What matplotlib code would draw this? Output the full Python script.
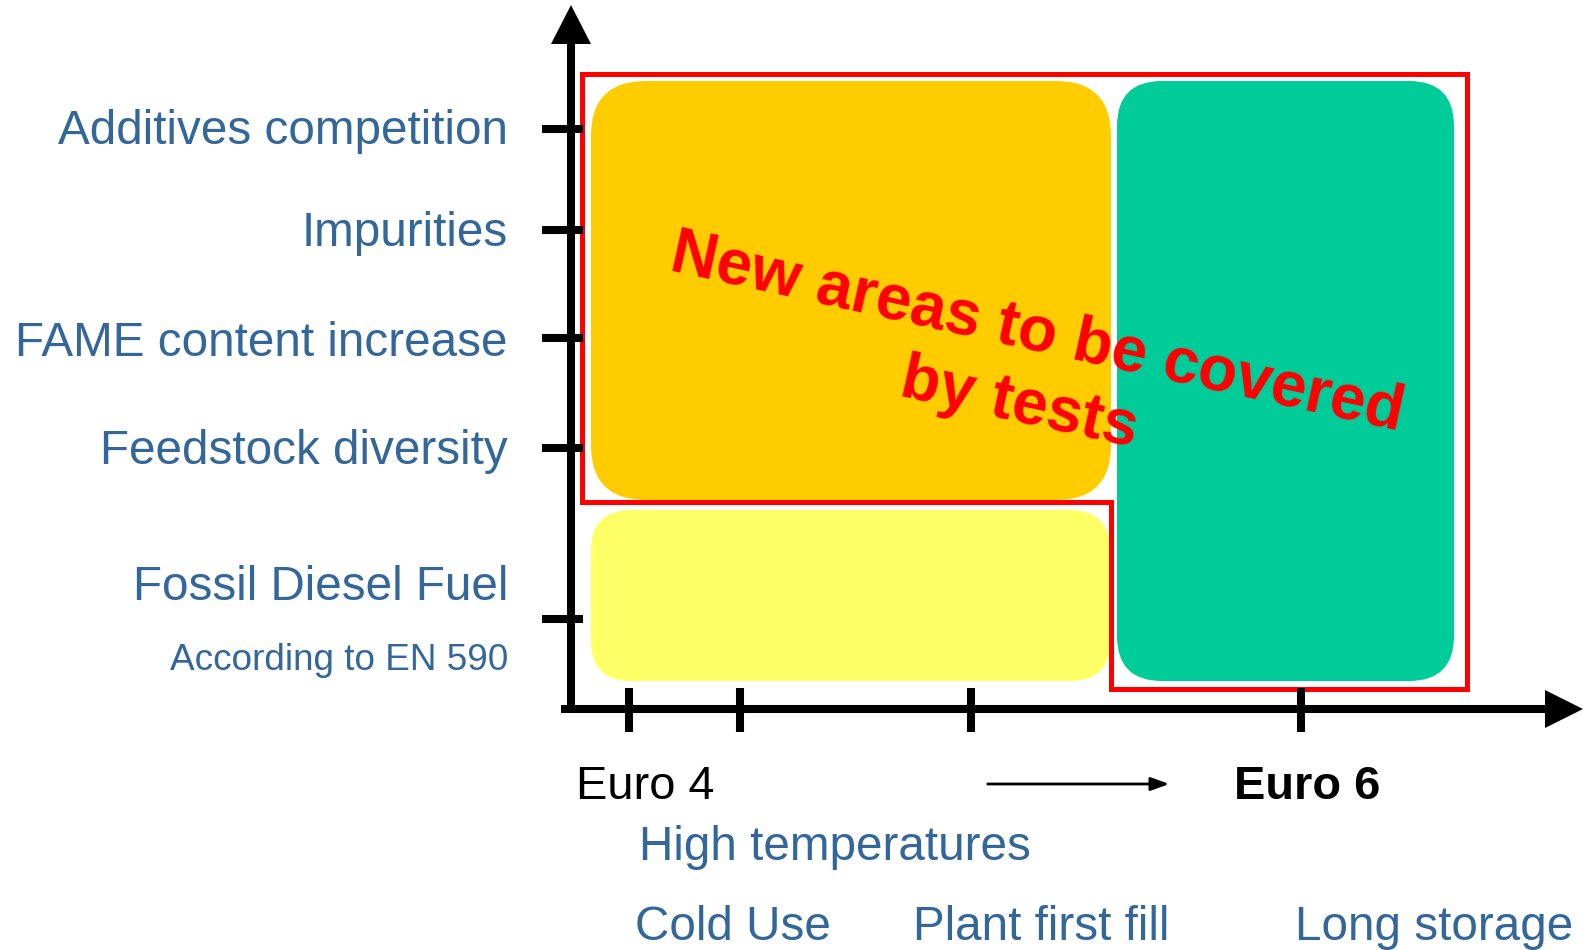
import matplotlib
matplotlib.use("Agg")
import matplotlib.pyplot as plt
from matplotlib.patches import FancyBboxPatch, Polygon
from matplotlib.lines import Line2D

plt.rcParams['font.family'] = ['Liberation Sans', 'DejaVu Sans']

# ---- content ----
y_labels = ["Additives competition", "Impurities", "FAME content increase",
            "Feedstock diversity", "Fossil Diesel Fuel"]
y_sublabel = "According to EN 590"
x_row1 = ["Euro 4", "Euro 6"]
x_row2 = ["High temperatures"]
x_row3 = ["Cold Use", "Plant first fill", "Long storage"]
overlay_lines = ["New areas to be covered", "by tests"]

# ---- layout (pixel coordinates, origin top-left) ----
W, H = 1583, 950
y_tick_pos = [129, 230, 338, 448, 619]
x_tick_pos = [629, 740, 971, 1301]
y_label_pos = [131, 233, 343, 451, 587]

BLUE = "#336699"
ORANGE = "#FFCC00"
GREEN = "#00CC99"
YELLOW = "#FFFF66"
RED = "#FF0000"

fig = plt.figure(figsize=(W / 100, H / 100), dpi=100)
ax = fig.add_axes([0, 0, 1, 1])
ax.set_xlim(0, W)
ax.set_ylim(H, 0)
ax.axis("off")

def rbox(x0, y0, x1, y1, r, color):
    p = FancyBboxPatch((x0, y0), x1 - x0, y1 - y0,
                       boxstyle=f"round,pad=0,rounding_size={r}",
                       facecolor=color, edgecolor="none", zorder=1)
    ax.add_patch(p)

rbox(591, 81, 1111, 500, 55, ORANGE)
rbox(1117, 81, 1454, 681, 45, GREEN)
rbox(591, 510, 1110, 681, 40, YELLOW)

# red outline
red_pts = [(582, 74), (1467, 74), (1467, 689), (1111, 689), (1111, 502), (582, 502)]
ax.add_patch(Polygon(red_pts, closed=True, fill=False, edgecolor=RED,
                     linewidth=3.6, joinstyle="miter", zorder=2))

# axes
lw = 5.8
ax.add_line(Line2D([571, 571], [713, 40], color="black", lw=lw, zorder=3,
                   solid_capstyle="butt"))
ax.add_patch(Polygon([(551, 44), (591, 44), (571, 5)], closed=True,
                     facecolor="black", edgecolor="none", zorder=3))
ax.add_line(Line2D([561, 1550], [709, 709], color="black", lw=lw, zorder=3,
                   solid_capstyle="butt"))
ax.add_patch(Polygon([(1545, 690), (1545, 728), (1583, 709)], closed=True,
                     facecolor="black", edgecolor="none", zorder=3))
for yt in y_tick_pos:
    ax.add_line(Line2D([542, 583], [yt, yt], color="black", lw=lw, zorder=3,
                       solid_capstyle="butt"))
for xt in x_tick_pos:
    ax.add_line(Line2D([xt, xt], [688, 732], color="black", lw=lw, zorder=3,
                       solid_capstyle="butt"))

# y labels
for lab, yp in zip(y_labels, y_label_pos):
    ax.text(508, yp, lab, ha="right", va="center", fontsize=34.3, color=BLUE)
ax.text(508, 660, y_sublabel, ha="right", va="center", fontsize=26.6, color=BLUE)

# x labels
ax.text(576, 787, x_row1[0], ha="left", va="center", fontsize=33.8, color="black")
ax.text(1234, 787, x_row1[1], ha="left", va="center", fontsize=33.8,
        color="black", fontweight="bold")
ax.annotate("", xy=(1172, 784), xytext=(985, 784),
            arrowprops=dict(arrowstyle="-|>,head_length=1.1,head_width=0.4",
                            color="black", lw=2))
ax.text(639, 848, x_row2[0], ha="left", va="center", fontsize=34.3, color=BLUE)
for lab, xp in zip(x_row3, [635, 913, 1295]):
    ax.text(xp, 927, lab, ha="left", va="center", fontsize=34.3, color=BLUE)

# overlay text
ax.text(1034, 350, overlay_lines[0], ha="center", va="baseline", rotation=-12.4,
        rotation_mode="anchor", fontsize=46, fontweight="bold", color=RED, zorder=5)
ax.text(1016, 421, overlay_lines[1], ha="center", va="baseline", rotation=-12.4,
        rotation_mode="anchor", fontsize=46, fontweight="bold", color=RED, zorder=5)

fig.savefig("out.png", dpi=100)
